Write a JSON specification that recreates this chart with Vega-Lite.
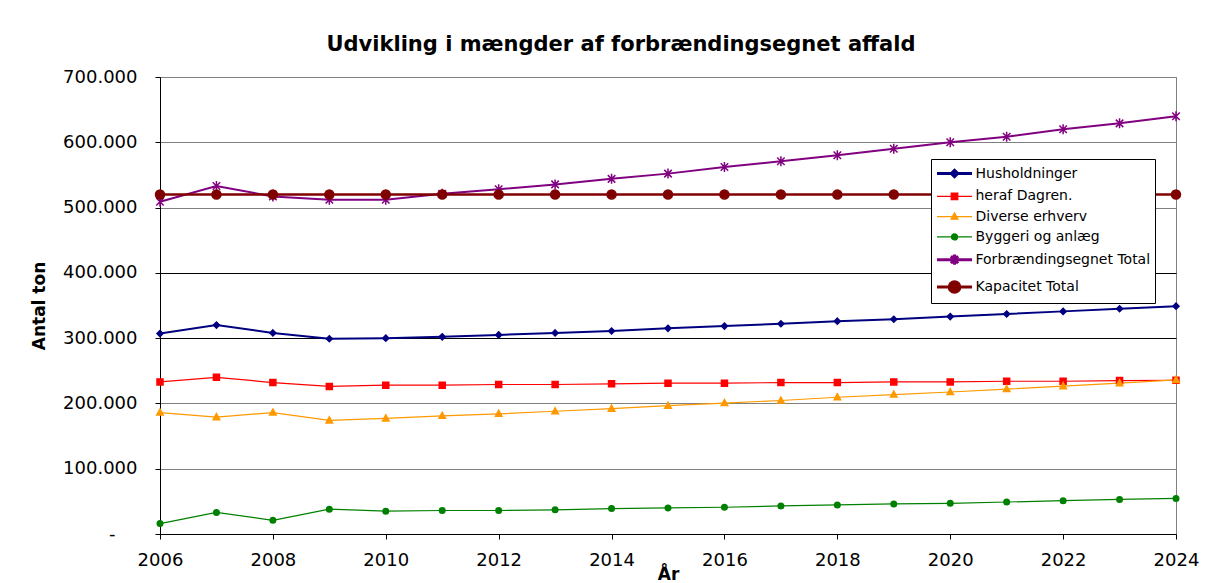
{
  "$schema": "https://vega.github.io/schema/vega-lite/v6.json",
  "width": 1016,
  "height": 457,
  "autosize": {"type": "none"},
  "padding": {"left": 160, "top": 77, "right": 45, "bottom": 49},
  "background": "white",
  "title": {
    "text": "Udvikling i mængder af forbrændingsegnet affald",
    "font": "DejaVu Sans",
    "fontSize": 21,
    "fontWeight": "bold",
    "color": "black",
    "anchor": "middle",
    "frame": "group",
    "dx": -47,
    "offset": -4,
    "baseline": "alphabetic"
  },
  "config": {
    "font": "DejaVu Sans",
    "view": {"stroke": "#808080", "strokeWidth": 1},
    "legend": {
      "padding": 4.5,
      "rowPadding": 3.3,
      "labelOffset": 20,
      "labelFontSize": 14,
      "labelFont": "DejaVu Sans",
      "labelColor": "black",
      "labelLimit": 300,
      "strokeColor": "black",
      "fillColor": "white",
      "symbolSize": 289
    }
  },
  "data": {
    "values": [
      {"year": 2006, "series": "Husholdninger", "value": 307000},
      {"year": 2007, "series": "Husholdninger", "value": 320000},
      {"year": 2008, "series": "Husholdninger", "value": 308000},
      {"year": 2009, "series": "Husholdninger", "value": 299000},
      {"year": 2010, "series": "Husholdninger", "value": 300000},
      {"year": 2011, "series": "Husholdninger", "value": 302000},
      {"year": 2012, "series": "Husholdninger", "value": 305000},
      {"year": 2013, "series": "Husholdninger", "value": 308000},
      {"year": 2014, "series": "Husholdninger", "value": 311000},
      {"year": 2015, "series": "Husholdninger", "value": 315000},
      {"year": 2016, "series": "Husholdninger", "value": 318500},
      {"year": 2017, "series": "Husholdninger", "value": 322000},
      {"year": 2018, "series": "Husholdninger", "value": 326000},
      {"year": 2019, "series": "Husholdninger", "value": 329000},
      {"year": 2020, "series": "Husholdninger", "value": 333000},
      {"year": 2021, "series": "Husholdninger", "value": 337000},
      {"year": 2022, "series": "Husholdninger", "value": 341000},
      {"year": 2023, "series": "Husholdninger", "value": 345000},
      {"year": 2024, "series": "Husholdninger", "value": 349000},
      {"year": 2006, "series": "heraf Dagren.", "value": 233000},
      {"year": 2007, "series": "heraf Dagren.", "value": 240000},
      {"year": 2008, "series": "heraf Dagren.", "value": 232000},
      {"year": 2009, "series": "heraf Dagren.", "value": 226000},
      {"year": 2010, "series": "heraf Dagren.", "value": 228000},
      {"year": 2011, "series": "heraf Dagren.", "value": 228000},
      {"year": 2012, "series": "heraf Dagren.", "value": 229000},
      {"year": 2013, "series": "heraf Dagren.", "value": 229000},
      {"year": 2014, "series": "heraf Dagren.", "value": 230000},
      {"year": 2015, "series": "heraf Dagren.", "value": 231000},
      {"year": 2016, "series": "heraf Dagren.", "value": 231000},
      {"year": 2017, "series": "heraf Dagren.", "value": 232000},
      {"year": 2018, "series": "heraf Dagren.", "value": 232000},
      {"year": 2019, "series": "heraf Dagren.", "value": 233000},
      {"year": 2020, "series": "heraf Dagren.", "value": 233000},
      {"year": 2021, "series": "heraf Dagren.", "value": 234000},
      {"year": 2022, "series": "heraf Dagren.", "value": 234000},
      {"year": 2023, "series": "heraf Dagren.", "value": 235000},
      {"year": 2024, "series": "heraf Dagren.", "value": 235500},
      {"year": 2006, "series": "Diverse erhverv", "value": 186000},
      {"year": 2007, "series": "Diverse erhverv", "value": 179000},
      {"year": 2008, "series": "Diverse erhverv", "value": 186000},
      {"year": 2009, "series": "Diverse erhverv", "value": 174000},
      {"year": 2010, "series": "Diverse erhverv", "value": 177000},
      {"year": 2011, "series": "Diverse erhverv", "value": 181000},
      {"year": 2012, "series": "Diverse erhverv", "value": 184000},
      {"year": 2013, "series": "Diverse erhverv", "value": 188000},
      {"year": 2014, "series": "Diverse erhverv", "value": 192000},
      {"year": 2015, "series": "Diverse erhverv", "value": 196500},
      {"year": 2016, "series": "Diverse erhverv", "value": 200500},
      {"year": 2017, "series": "Diverse erhverv", "value": 204500},
      {"year": 2018, "series": "Diverse erhverv", "value": 209500},
      {"year": 2019, "series": "Diverse erhverv", "value": 213500},
      {"year": 2020, "series": "Diverse erhverv", "value": 217500},
      {"year": 2021, "series": "Diverse erhverv", "value": 222000},
      {"year": 2022, "series": "Diverse erhverv", "value": 226500},
      {"year": 2023, "series": "Diverse erhverv", "value": 231000},
      {"year": 2024, "series": "Diverse erhverv", "value": 236000},
      {"year": 2006, "series": "Byggeri og anlæg", "value": 16000},
      {"year": 2007, "series": "Byggeri og anlæg", "value": 33000},
      {"year": 2008, "series": "Byggeri og anlæg", "value": 21000},
      {"year": 2009, "series": "Byggeri og anlæg", "value": 38000},
      {"year": 2010, "series": "Byggeri og anlæg", "value": 35000},
      {"year": 2011, "series": "Byggeri og anlæg", "value": 36000},
      {"year": 2012, "series": "Byggeri og anlæg", "value": 36000},
      {"year": 2013, "series": "Byggeri og anlæg", "value": 37000},
      {"year": 2014, "series": "Byggeri og anlæg", "value": 39000},
      {"year": 2015, "series": "Byggeri og anlæg", "value": 40000},
      {"year": 2016, "series": "Byggeri og anlæg", "value": 41000},
      {"year": 2017, "series": "Byggeri og anlæg", "value": 43000},
      {"year": 2018, "series": "Byggeri og anlæg", "value": 44500},
      {"year": 2019, "series": "Byggeri og anlæg", "value": 46000},
      {"year": 2020, "series": "Byggeri og anlæg", "value": 47000},
      {"year": 2021, "series": "Byggeri og anlæg", "value": 49000},
      {"year": 2022, "series": "Byggeri og anlæg", "value": 51000},
      {"year": 2023, "series": "Byggeri og anlæg", "value": 53000},
      {"year": 2024, "series": "Byggeri og anlæg", "value": 54500},
      {"year": 2006, "series": "Forbrændingsegnet Total", "value": 509000},
      {"year": 2007, "series": "Forbrændingsegnet Total", "value": 533000},
      {"year": 2008, "series": "Forbrændingsegnet Total", "value": 517000},
      {"year": 2009, "series": "Forbrændingsegnet Total", "value": 512000},
      {"year": 2010, "series": "Forbrændingsegnet Total", "value": 512000},
      {"year": 2011, "series": "Forbrændingsegnet Total", "value": 521000},
      {"year": 2012, "series": "Forbrændingsegnet Total", "value": 528000},
      {"year": 2013, "series": "Forbrændingsegnet Total", "value": 535500},
      {"year": 2014, "series": "Forbrændingsegnet Total", "value": 544000},
      {"year": 2015, "series": "Forbrændingsegnet Total", "value": 552000},
      {"year": 2016, "series": "Forbrændingsegnet Total", "value": 562000},
      {"year": 2017, "series": "Forbrændingsegnet Total", "value": 571000},
      {"year": 2018, "series": "Forbrændingsegnet Total", "value": 580000},
      {"year": 2019, "series": "Forbrændingsegnet Total", "value": 590000},
      {"year": 2020, "series": "Forbrændingsegnet Total", "value": 600000},
      {"year": 2021, "series": "Forbrændingsegnet Total", "value": 608500},
      {"year": 2022, "series": "Forbrændingsegnet Total", "value": 620000},
      {"year": 2023, "series": "Forbrændingsegnet Total", "value": 629000},
      {"year": 2024, "series": "Forbrændingsegnet Total", "value": 640000},
      {"year": 2006, "series": "Kapacitet Total", "value": 520000},
      {"year": 2007, "series": "Kapacitet Total", "value": 520000},
      {"year": 2008, "series": "Kapacitet Total", "value": 520000},
      {"year": 2009, "series": "Kapacitet Total", "value": 520000},
      {"year": 2010, "series": "Kapacitet Total", "value": 520000},
      {"year": 2011, "series": "Kapacitet Total", "value": 520000},
      {"year": 2012, "series": "Kapacitet Total", "value": 520000},
      {"year": 2013, "series": "Kapacitet Total", "value": 520000},
      {"year": 2014, "series": "Kapacitet Total", "value": 520000},
      {"year": 2015, "series": "Kapacitet Total", "value": 520000},
      {"year": 2016, "series": "Kapacitet Total", "value": 520000},
      {"year": 2017, "series": "Kapacitet Total", "value": 520000},
      {"year": 2018, "series": "Kapacitet Total", "value": 520000},
      {"year": 2019, "series": "Kapacitet Total", "value": 520000},
      {"year": 2020, "series": "Kapacitet Total", "value": 520000},
      {"year": 2021, "series": "Kapacitet Total", "value": 520000},
      {"year": 2022, "series": "Kapacitet Total", "value": 520000},
      {"year": 2023, "series": "Kapacitet Total", "value": 520000},
      {"year": 2024, "series": "Kapacitet Total", "value": 520000}
    ]
  },
  "encoding": {
    "x": {
      "field": "year",
      "type": "quantitative",
      "scale": {"domain": [2006, 2024], "nice": false, "zero": false},
      "axis": {
        "title": "År",
        "values": [2006, 2008, 2010, 2012, 2014, 2016, 2018, 2020, 2022, 2024],
        "format": "d",
        "grid": false,
        "tickSize": 5,
        "labelPadding": 12,
        "labelFontSize": 18,
        "labelFont": "DejaVu Sans",
        "labelColor": "black",
        "labelFlush": false,
        "labelOverlap": false,
        "titleFont": "DejaVu Sans",
        "titleFontSize": 17,
        "titleFontWeight": "bold",
        "titleColor": "black",
        "titlePadding": -3,
        "domainColor": "black",
        "tickColor": "black"
      }
    }
  },
  "layer": [
    {
      "mark": {"type": "line"},
      "encoding": {
        "y": {
          "field": "value",
          "type": "quantitative",
          "scale": {"domain": [0, 700000], "nice": false},
          "axis": {
            "title": "Antal ton",
            "values": [0, 100000, 200000, 300000, 400000, 500000, 600000, 700000],
            "labelExpr": "datum.value === 0 ? '' : replace(format(datum.value, ','), ',', '.')",
            "tickSize": 5,
            "labelPadding": 18,
            "labelFontSize": 18,
            "labelFont": "DejaVu Sans",
            "labelColor": "black",
            "labelOverlap": false,
            "gridColor": {"condition": {"test": "datum.value === 300000 || datum.value === 400000", "value": "black"}, "value": "#808080"},
            "gridOpacity": 1,
            "domainColor": "black",
            "tickColor": "black",
            "titleFont": "DejaVu Sans",
            "titleFontSize": 17,
            "titleFontWeight": "bold",
            "titleColor": "black",
            "titlePadding": 14
          }
        },
        "color": {
          "field": "series",
          "type": "nominal",
          "scale": {
            "domain": ["Husholdninger", "heraf Dagren.", "Diverse erhverv", "Byggeri og anlæg", "Forbrændingsegnet Total", "Kapacitet Total"],
            "range": ["#000080", "#FF0000", "#FF9900", "#008000", "#800080", "#800000"]
          },
          "legend": null
        },
        "strokeWidth": {
          "field": "series",
          "type": "nominal",
          "scale": {
            "type": "ordinal",
            "domain": ["Husholdninger", "heraf Dagren.", "Diverse erhverv", "Byggeri og anlæg", "Forbrændingsegnet Total", "Kapacitet Total"],
            "range": [2, 1.2, 1.2, 1.2, 2, 2.5]
          },
          "legend": null
        }
      }
    },
    {
      "mark": {"type": "point", "opacity": 1, "size": 100, "strokeWidth": 1.5},
      "encoding": {
        "y": {"field": "value", "type": "quantitative", "scale": {"domain": [0, 700000], "nice": false}, "axis": null},
        "fill": {
          "field": "series",
          "type": "nominal",
          "scale": {
            "domain": ["Husholdninger", "heraf Dagren.", "Diverse erhverv", "Byggeri og anlæg", "Forbrændingsegnet Total", "Kapacitet Total"],
            "range": ["#000080", "#FF0000", "#FF9900", "#008000", "#800080", "#800000"]
          },
          "legend": null
        },
        "stroke": {
          "field": "series",
          "type": "nominal",
          "scale": {
            "domain": ["Husholdninger", "heraf Dagren.", "Diverse erhverv", "Byggeri og anlæg", "Forbrændingsegnet Total", "Kapacitet Total"],
            "range": ["#000080", "#FF0000", "#FF9900", "#008000", "#800080", "#800000"]
          },
          "legend": null
        },
        "shape": {
          "field": "series",
          "type": "nominal",
          "scale": {
            "domain": ["Husholdninger", "heraf Dagren.", "Diverse erhverv", "Byggeri og anlæg", "Forbrændingsegnet Total", "Kapacitet Total"],
            "range": [
              "M0,-0.6L0.6,0L0,0.6L-0.6,0Z",
              "M-0.6,-0.6L0.6,-0.6L0.6,0.6L-0.6,0.6Z",
              "M0,-0.7L0.65,0.5L-0.65,0.5Z",
              "M-0.55,0A0.55,0.55 0 1,0 0.55,0A0.55,0.55 0 1,0 -0.55,0Z",
              "M0,-1L0,1M-0.75,-0.75L0.75,0.75M-0.75,0.75L0.75,-0.75",
              "M-0.9,0A0.9,0.9 0 1,0 0.9,0A0.9,0.9 0 1,0 -0.9,0Z"
            ]
          },
          "legend": null
        }
      }
    },
    {
      "transform": [{"filter": "datum.year < 0"}],
      "mark": {"type": "point", "opacity": 1, "size": 289},
      "encoding": {
        "y": {"field": "value", "type": "quantitative", "scale": {"domain": [0, 700000], "nice": false}, "axis": null},
        "fill": {
          "field": "series",
          "type": "nominal",
          "scale": {
            "domain": ["Husholdninger", "heraf Dagren.", "Diverse erhverv", "Byggeri og anlæg", "Forbrændingsegnet Total", "Kapacitet Total"],
            "range": ["#000080", "#FF0000", "#FF9900", "#008000", "#800080", "#800000"]
          },
          "legend": {"title": null, "orient": "none", "legendX": 771, "legendY": 82}
        },
        "stroke": {
          "field": "series",
          "type": "nominal",
          "scale": {
            "domain": ["Husholdninger", "heraf Dagren.", "Diverse erhverv", "Byggeri og anlæg", "Forbrændingsegnet Total", "Kapacitet Total"],
            "range": ["#000080", "#FF0000", "#FF9900", "#008000", "#800080", "#800000"]
          },
          "legend": {"title": null, "orient": "none", "legendX": 771, "legendY": 82}
        },
        "strokeWidth": {
          "field": "series",
          "type": "nominal",
          "scale": {
            "type": "ordinal",
            "domain": ["Husholdninger", "heraf Dagren.", "Diverse erhverv", "Byggeri og anlæg", "Forbrændingsegnet Total", "Kapacitet Total"],
            "range": [3, 1.2, 1.2, 1.2, 3, 3]
          },
          "legend": {"title": null, "orient": "none", "legendX": 771, "legendY": 82}
        },
        "shape": {
          "field": "series",
          "type": "nominal",
          "scale": {
            "domain": ["Husholdninger", "heraf Dagren.", "Diverse erhverv", "Byggeri og anlæg", "Forbrændingsegnet Total", "Kapacitet Total"],
            "range": [
              "M-1,0L3.12,0M1.06,-0.38L1.44,0L1.06,0.38L0.68,0Z",
              "M-1,0L3.12,0M0.67,-0.39L1.45,-0.39L1.45,0.39L0.67,0.39Z",
              "M-1,0L3.12,0M1.06,-0.45L1.47,0.3L0.65,0.3Z",
              "M-1,0L3.12,0M0.7,0A0.36,0.36 0 1,0 1.42,0A0.36,0.36 0 1,0 0.7,0Z",
              "M-1,0L3.12,0M1.06,-0.6L1.06,0.6M0.64,-0.42L1.48,0.42M0.64,0.42L1.48,-0.42",
              "M-1,0L3.12,0M0.43,0A0.63,0.63 0 1,0 1.69,0A0.63,0.63 0 1,0 0.43,0Z"
            ]
          },
          "legend": {"title": null, "orient": "none", "legendX": 771, "legendY": 82}
        }
      }
    },
    {
      "transform": [{"filter": "datum.year < 0"}],
      "mark": {"type": "point", "opacity": 0},
      "encoding": {
        "y": {
          "field": "value",
          "type": "quantitative",
          "scale": {"domain": [0, 700000], "nice": false},
          "axis": {
            "orient": "left",
            "offset": 27,
            "title": null,
            "values": [0],
            "labelExpr": "'-'",
            "domain": false,
            "ticks": false,
            "grid": false,
            "labelPadding": 18,
            "labelFontSize": 18,
            "labelFont": "DejaVu Sans",
            "labelColor": "black"
          }
        }
      }
    }
  ],
  "resolve": {
    "scale": {"y": "independent", "color": "independent", "fill": "independent", "stroke": "independent", "shape": "independent", "strokeWidth": "independent"},
    "axis": {"y": "independent"}
  }
}
